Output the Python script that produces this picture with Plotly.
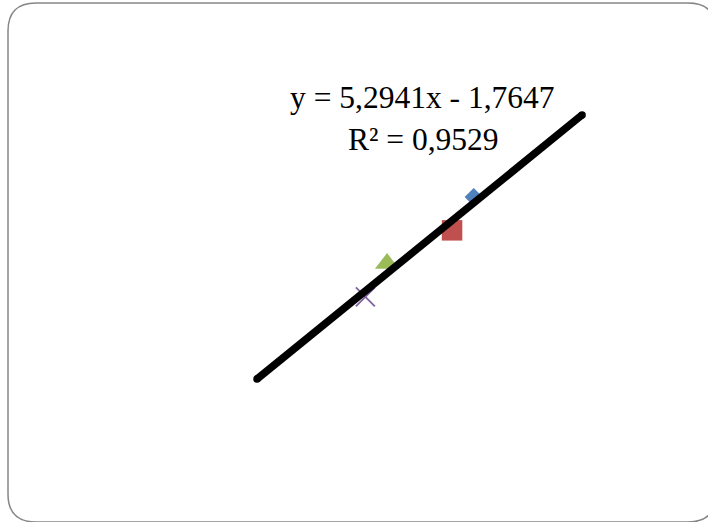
import numpy as np
import plotly.graph_objects as go

# ---- data (one point per series) ----
series_names = ["Series 1", "Series 2", "Series 3", "Series 4"]
x_values = [17, 16, 13, 12]
y_values = [90, 80, 70, 60]
marker_symbols = ["diamond", "square", "triangle-up", "x-thin"]
marker_colors = ["#4F81BD", "#C0504D", "#9BBB59", "#8064A2"]
marker_sizes = [14, 20.5, 21, 19]
forecast_backward = 5
forecast_forward = 5

W, H = 708, 522

fig = go.Figure()

for name, xv, yv, sym, col, sz in zip(series_names, x_values, y_values,
                                      marker_symbols, marker_colors, marker_sizes):
    if sym == "x-thin":
        mk = dict(symbol=sym, size=sz, color=col, line=dict(width=1.8, color=col))
    else:
        mk = dict(symbol=sym, size=sz, color=col, line=dict(width=0))
    fig.add_trace(go.Scatter(x=[xv], y=[yv], mode="markers", name=name,
                             marker=mk, showlegend=False, hoverinfo="x+y"))

# linear trendline (least squares) with forecast
xa = np.array(x_values, dtype=float)
ya = np.array(y_values, dtype=float)
slope, intercept = np.polyfit(xa, ya, 1)
pred = slope * xa + intercept
r2 = 1 - np.sum((ya - pred) ** 2) / np.sum((ya - ya.mean()) ** 2)
x_line = np.array([xa.min() - forecast_backward, xa.max() + forecast_forward])
y_line = slope * x_line + intercept
fig.add_trace(go.Scatter(x=x_line, y=y_line, mode="lines+markers",
                         line=dict(color="black", width=7.5),
                         marker=dict(color="black", size=7.5, symbol="circle"),
                         showlegend=False, hoverinfo="skip"))

def fmt(v):
    return f"{v:.4f}".replace(".", ",")

sign = "-" if intercept < 0 else "+"
eq_text = f"y = {fmt(slope)}x {sign} {fmt(abs(intercept))}"
r2_text = f"R² = {fmt(r2)}"

font = dict(family="Liberation Serif, Times New Roman, serif", size=31.5, color="black")
fig.add_annotation(x=422.5 / W, y=1 - 97.5 / H, xref="paper", yref="paper",
                   text=eq_text, showarrow=False, font=font,
                   xanchor="center", yanchor="middle")
fig.add_annotation(x=423.5 / W, y=1 - 139 / H, xref="paper", yref="paper",
                   text=r2_text, showarrow=False, font=font,
                   xanchor="center", yanchor="middle")

# rounded border of the chart area
def P(px, py):
    return f"{px / W:.5f},{1 - py / H:.5f}"

x0, x1, y0, y1, r = 8, 716, 3, 522, 28
path = (f"M {P(x0 + r, y0)} L {P(x1 - r, y0)} Q {P(x1, y0)} {P(x1, y0 + r)} "
        f"L {P(x1, y1 - r)} Q {P(x1, y1)} {P(x1 - r, y1)} "
        f"L {P(x0 + r, y1)} Q {P(x0, y1)} {P(x0, y1 - r)} "
        f"L {P(x0, y0 + r)} Q {P(x0, y0)} {P(x0 + r, y0)} Z")
fig.add_shape(type="path", path=path, xref="paper", yref="paper",
              line=dict(color="#868686", width=1.5), fillcolor="rgba(0,0,0,0)",
              layer="below")

fig.update_layout(
    width=W, height=H,
    margin=dict(l=0, r=0, t=0, b=0),
    paper_bgcolor="white", plot_bgcolor="white",
    xaxis=dict(range=[-4.86, 27.81], visible=False, fixedrange=True),
    yaxis=dict(range=[-7.72, 149.27], visible=False, fixedrange=True),
    showlegend=False,
)

fig.write_html(
    "out.html",
    config={"displayModeBar": False},
    post_script="document.body.style.margin='0';document.body.style.overflow='hidden';",
)
